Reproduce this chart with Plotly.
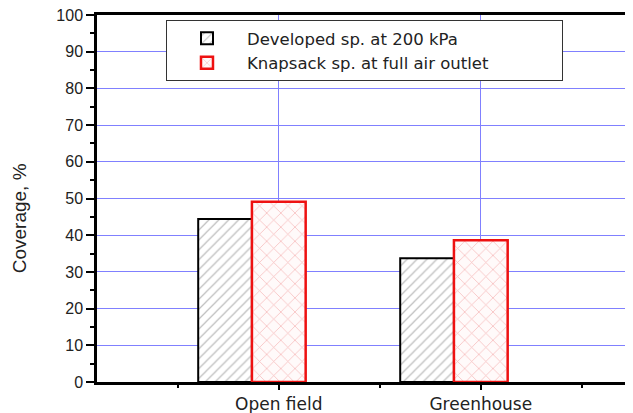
import plotly.graph_objects as go

categories = ["Open field", "Greenhouse"]
cat_pos = [1, 2]
developed = [44.4, 33.7]
knapsack = [49.1, 38.6]
series_names = ["Developed sp. at 200 kPa", "Knapsack sp. at full air outlet"]
y_ticks = list(range(0, 101, 10))
y_title = "Coverage, %"

bar_w = 0.266

# page body has an 8px default margin, so the figure is 8px smaller than the window
W, H = 625, 405
L, T, B = 89, 7, 31
plot_w = W - L
plot_h = H - T - B

fig = go.Figure()
fig.add_trace(go.Bar(
    x=[p - bar_w for p in cat_pos], y=developed, width=bar_w, name=series_names[0],
    marker=dict(color="white", line=dict(color="black", width=2),
                pattern=dict(shape="/", fgcolor="#808080", bgcolor="white", size=7, solidity=0.18)),
))
fig.add_trace(go.Bar(
    x=cat_pos, y=knapsack, width=bar_w, name=series_names[1],
    marker=dict(color="white", line=dict(color="#ee1111", width=2.5),
                pattern=dict(shape="x", fgcolor="#ee8080", bgcolor="#fffafa", size=10, solidity=0.15)),
))

fig.update_layout(
    width=W, height=H,
    margin=dict(l=L, r=0, t=T, b=B, autoexpand=False),
    paper_bgcolor="white", plot_bgcolor="white",
    barmode="overlay",
    font=dict(family="Liberation Sans, Arial, sans-serif", color="#222", size=17),
    showlegend=True,
    legend=dict(x=0.1287, y=0.986, xanchor="left", yanchor="top",
                orientation="h", entrywidth=310, entrywidthmode="pixels",
                bgcolor="white", bordercolor="#333", borderwidth=1,
                font=dict(size=16.5, family="DejaVu Sans, sans-serif"), itemwidth=70, tracegroupgap=0),
    annotations=[dict(
        text=y_title, textangle=-90, xref="paper", yref="paper",
        x=(19 - 8 - L) / plot_w, y=(381.7 - 218) / plot_h,
        xanchor="center", yanchor="middle", showarrow=False,
        font=dict(size=19, family="Liberation Sans, Arial, sans-serif", color="#222"),
    )],
)
fig.update_xaxes(
    range=[0.1, 0.1 + plot_w / 202], tickvals=cat_pos, ticktext=categories,
    automargin=False, ticklabeloverflow="allow",
    showline=True, linecolor="black", linewidth=2.5, mirror=True,
    ticks="outside", ticklen=5, tickwidth=2, tickcolor="black",
    tickfont=dict(size=17, family="DejaVu Sans, sans-serif"),
    showgrid=True, gridcolor="#8080ff", gridwidth=1, zeroline=False,
    minor=dict(tickmode="array", tickvals=[0.5, 1.5, 2.5], ticks="outside", ticklen=3,
               tickwidth=2, tickcolor="black", showgrid=False),
)
fig.update_yaxes(
    range=[0, 100], tickvals=y_ticks,
    automargin=False, ticklabeloverflow="allow",
    showline=True, linecolor="black", linewidth=2.5,
    ticks="outside", ticklen=8, tickwidth=2, tickcolor="black",
    tickfont=dict(size=16),
    showgrid=True, gridcolor="#8080ff", gridwidth=1, zeroline=False,
    minor=dict(dtick=5, ticks="outside", ticklen=4, tickwidth=2, tickcolor="black", showgrid=False),
)

fig.write_html("out.html")
